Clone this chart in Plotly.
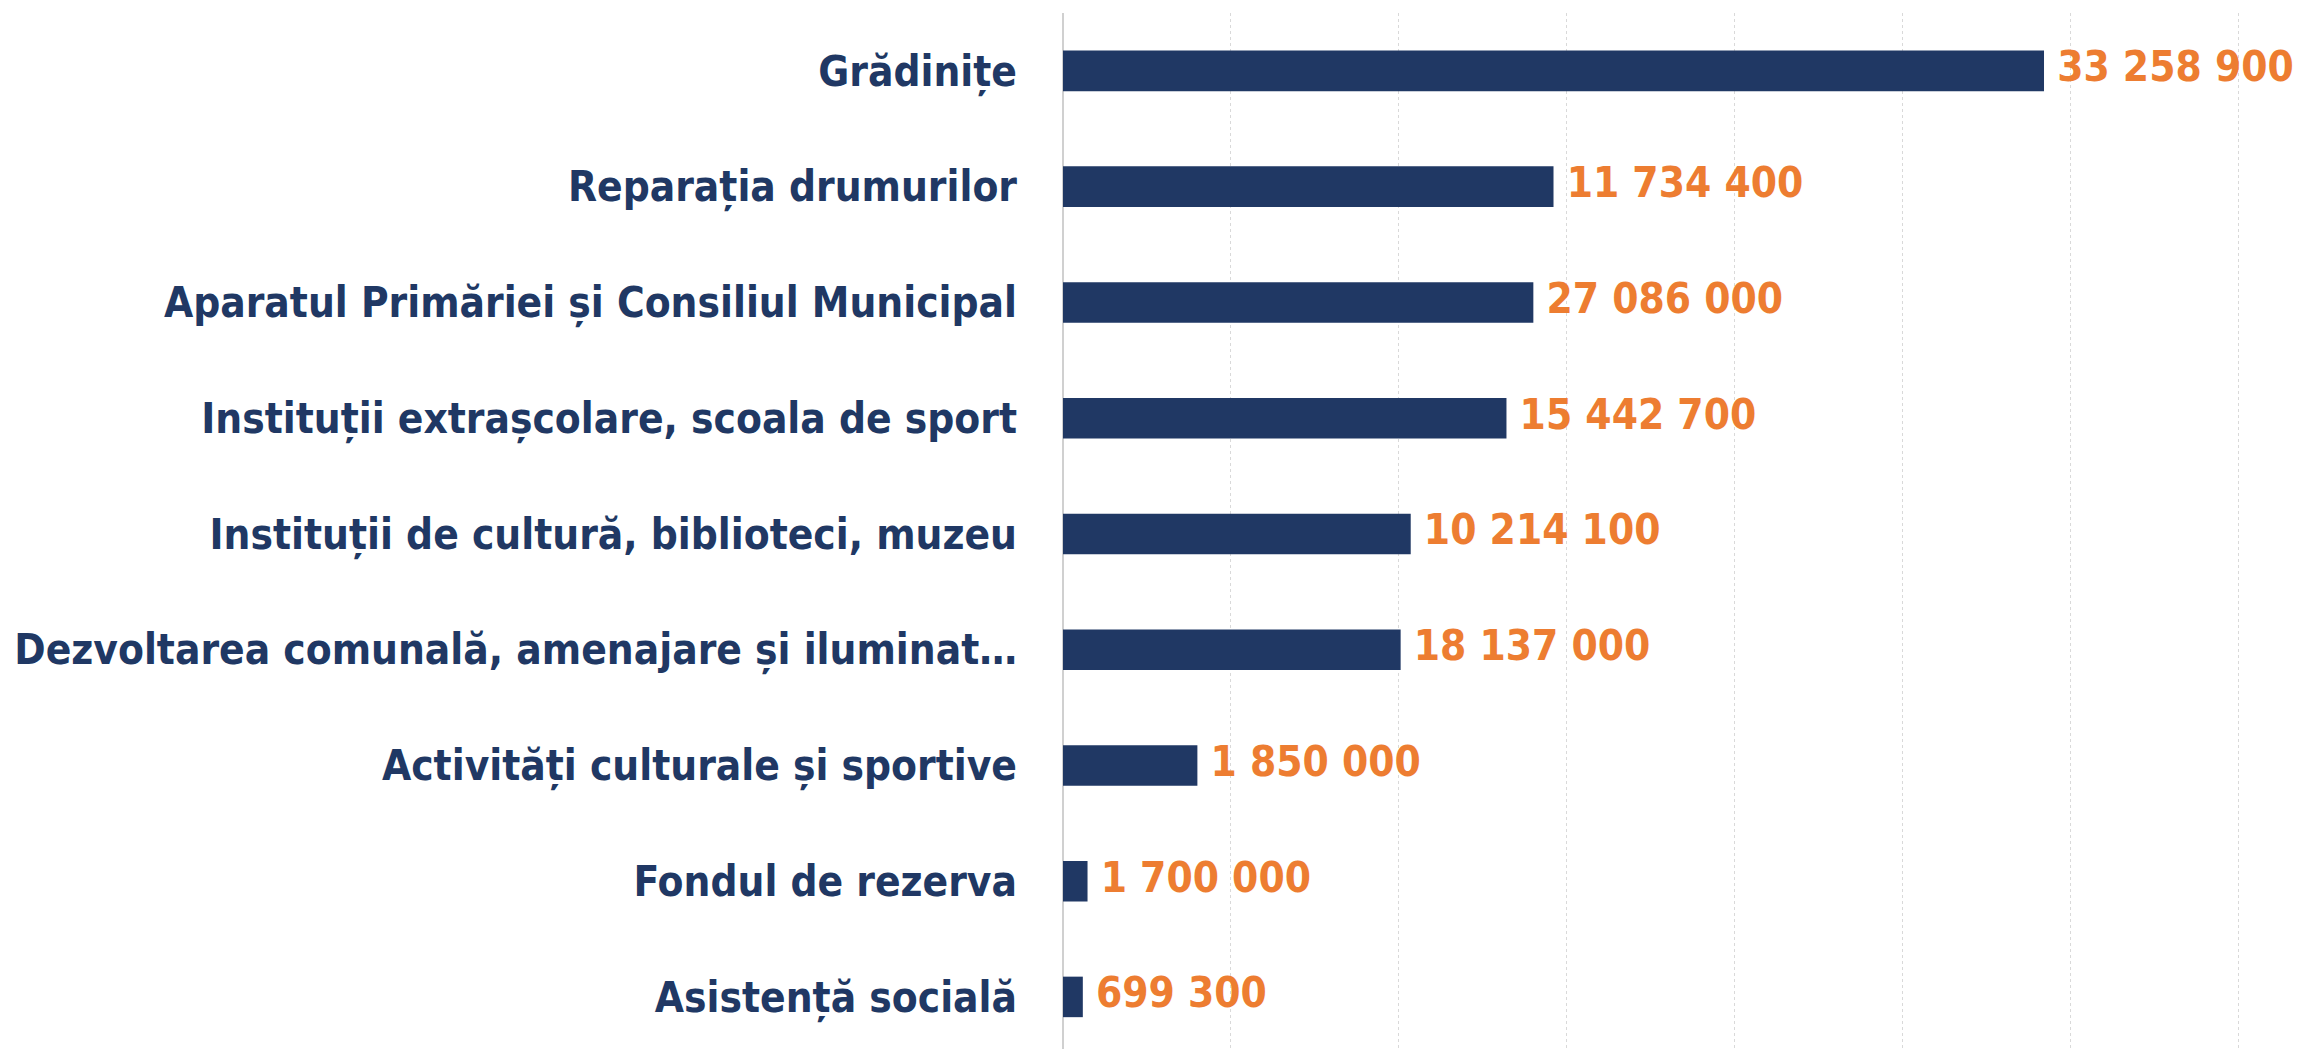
import plotly.graph_objects as go

# categories, top to bottom as in the chart
categories = [
    "Grădinițe",
    "Reparația drumurilor",
    "Aparatul Primăriei și Consiliul Municipal",
    "Instituții extrașcolare, scoala de sport",
    "Instituții de cultură, biblioteci, muzeu",
    "Dezvoltarea comunală, amenajare și iluminat…",
    "Activități culturale și sportive",
    "Fondul de rezerva",
    "Asistență socială",
]

# bar lengths (as drawn; they differ from the printed labels)
bar_values = [29.2, 14.6, 14.0, 13.2, 10.35, 10.05, 4.0, 0.73, 0.59]

# printed value labels
value_labels = [
    "33 258 900",
    "11 734 400",
    "27 086 000",
    "15 442 700",
    "10 214 100",
    "18 137 000",
    "1 850 000",
    "1 700 000",
    "699 300",
]

NAVY = "#203864"
ORANGE = "#ED7D31"
FONT = "DejaVu Sans Condensed, sans-serif"

bars = go.Bar(
    x=bar_values,
    y=categories,
    orientation="h",
    marker=dict(color=NAVY, line=dict(width=0)),
    hoverinfo="x+y",
)

# value labels as a text layer so they keep their size
labels = go.Scatter(
    x=bar_values,
    y=categories,
    mode="text",
    text=[" " + t for t in value_labels],
    textposition="middle right",
    textfont=dict(family=FONT, size=42, color=ORANGE, weight="bold"),
    cliponaxis=False,
    hoverinfo="skip",
)

fig = go.Figure([bars, labels])

# page body adds 8px, so the figure is 8px smaller on each axis
fig.update_layout(
    width=2295,
    height=1041,
    showlegend=False,
    plot_bgcolor="white",
    paper_bgcolor="white",
    bargap=0.65,
    margin=dict(l=1055, r=5, t=5, b=0, autoexpand=False),
    font=dict(family=FONT, size=42, color=NAVY),
)

fig.update_xaxes(
    range=[0, 36.76],
    dtick=5,
    showticklabels=False,
    showgrid=True,
    gridcolor="#d9d9d9",
    griddash="dot",
    gridwidth=1,
    zeroline=True,
    zerolinecolor="#d0d0d0",
    zerolinewidth=2,
    showline=False,
    automargin=False,
)

fig.update_yaxes(
    type="category",
    categoryorder="array",
    categoryarray=categories,
    range=[8.45, -0.5],
    showgrid=False,
    showline=False,
    ticks="",
    automargin=False,
    ticklabelstandoff=45,
    tickfont=dict(family=FONT, size=42, color=NAVY, weight="bold"),
)

fig.write_html("out.html")
